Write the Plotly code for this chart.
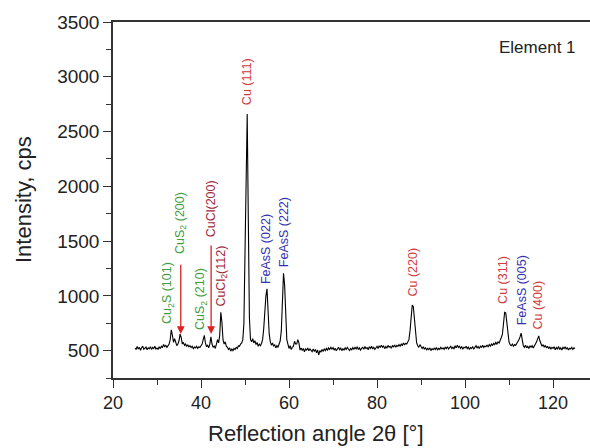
import numpy as np
import plotly.graph_objects as go

# Scan grid (2theta, degrees): 25 .. 125 in 0.25 steps
angle_start = 25.0
angle_step = 0.25

intensity = [
    # 25 - 29.75
    522, 510, 538, 515, 530, 504, 527, 541, 512, 520, 533, 508, 525, 517, 536, 511, 529, 519, 540, 514,
    # 30 - 34.75
    524, 512, 535, 518, 540, 528, 556, 537, 548, 530, 545, 560, 600, 690, 640, 575, 610, 565, 545, 560,
    # 35 - 39.75
    590, 650, 620, 560, 575, 548, 560, 540, 552, 535, 546, 528, 540, 518, 532, 525, 540, 520, 535, 528,
    # 40 - 44.75
    545, 560, 600, 640, 570, 535, 548, 525, 560, 625, 560, 530, 545, 520, 560, 600, 570, 640, 850, 760,
    # 45 - 49.75
    600, 560, 580, 540, 530, 510, 525, 495, 515, 500, 520, 510, 530, 520, 545, 540, 560, 570, 600, 750,
    # 50 - 54.75
    1400, 2300, 2660, 1700, 800, 600, 580, 610, 570, 590, 555, 575, 540, 560, 545, 565, 600, 700, 900, 1000,
    # 55 - 59.75
    1065, 850, 650, 580, 550, 570, 540, 555, 525, 545, 530, 560, 590, 680, 950, 1205, 1100, 750, 600, 560,
    # 60 - 64.75
    520, 545, 510, 530, 540, 585, 560, 560, 600, 570, 505, 525, 500, 520, 490, 515, 505, 525, 498, 515,
    # 65 - 69.75
    505, 490, 515, 495, 510, 480, 505, 460, 500, 485, 510, 495, 515, 500, 520, 505, 525, 510, 530, 515,
    # 70 - 74.75
    528, 505, 520, 498, 515, 530, 508, 522, 500, 518, 505, 525, 510, 530, 515, 502, 520, 508, 527, 512,
    # 75 - 79.75
    530, 515, 535, 510, 525, 505, 520, 530, 512, 538, 518, 528, 508, 535, 520, 540, 515, 530, 510, 532,
    # 80 - 84.75
    540, 520, 545, 528, 550, 530, 542, 518, 538, 525, 548, 532, 540, 522, 545, 535, 552, 530, 548, 538,
    # 85 - 89.75
    555, 540, 560, 545, 570, 555, 565, 560, 575, 600, 680, 850, 915, 900, 800, 640, 570, 545, 530, 555,
    # 90 - 94.75
    540, 520, 535, 512, 528, 505, 520, 510, 525, 500, 518, 508, 522, 510, 528, 505, 520, 512, 530, 515,
    # 95 - 99.75
    525, 510, 530, 518, 535, 515, 528, 540, 520, 532, 515, 545, 525, 550, 528, 540, 520, 535, 515, 530,
    # 100 - 104.75
    525, 540, 518, 532, 510, 528, 520, 535, 515, 530, 545, 525, 538, 520, 540, 530, 548, 528, 542, 535,
    # 105 - 109.75
    550, 535, 555, 540, 560, 548, 565, 555, 575, 560, 580, 570, 590, 620, 650, 760, 850, 845, 740, 620,
    # 110 - 114.75
    580, 555, 545, 560, 540, 555, 548, 565, 580, 600, 625, 660, 600, 545, 530, 550, 525, 540, 520, 545,
    # 115 - 119.75
    530, 545, 525, 550, 560, 580, 610, 635, 590, 565, 540, 555, 530, 548, 525, 540, 518, 535, 512, 530,
    # 120 - 125
    520, 535, 508, 528, 515, 538, 510, 525, 505, 530, 518, 535, 512, 528, 505, 522, 515, 530, 510, 525,
    518,
]
angles = angle_start + angle_step * np.arange(len(intensity))

# Peak labels
label_texts = [
    "Cu<sub>2</sub>S (101)", "CuS<sub>2</sub> (200)", "CuS<sub>2</sub> (210)", "CuCl(200)",
    "CuCl<sub>2</sub>(112)", "Cu (111)", "FeAsS (022)", "FeAsS (222)",
    "Cu (220)", "Cu (311)", "FeAsS (005)", "Cu (400)",
]
label_x = [32.5, 35.4, 40.0, 42.2, 44.8, 50.5, 54.8, 58.9, 88.2, 108.6, 113.0, 116.6]
label_y = [725, 1362, 670, 1518, 880, 2720, 1090, 1245, 972, 907, 715, 670]
label_kind = ["g", "g", "g", "m", "m", "r", "b", "b", "r", "r", "b", "r"]
kind_colors = {"g": "#3f9c3f", "m": "#9e2a3a", "r": "#d23a3a", "b": "#3030b0"}

# Arrows (x, head value, tail value)
arrow_x = [35.4, 42.3]
arrow_head = [652, 652]
arrow_tail = [1298, 1473]

x_ticks = [20, 40, 60, 80, 100, 120]
y_ticks = [500, 1000, 1500, 2000, 2500, 3000, 3500]

FONT = "Liberation Sans, Arial, sans-serif"
W, H = 590, 448
L, R, T, B = 113, 0, 22, 70
pw, ph = W - L - R, H - T - B


def px_to_paper(px, py):
    return (px - L) / pw, 1 - (py - T) / ph


fig = go.Figure()
fig.add_trace(go.Scatter(x=angles, y=intensity, mode="lines",
                         line=dict(color="black", width=1.1), showlegend=False,
                         hoverinfo="skip"))

for t, x, y, k in zip(label_texts, label_x, label_y, label_kind):
    fig.add_annotation(x=x, y=y, xref="x", yref="y", text=t, showarrow=False,
                       textangle=-90, xanchor="center", yanchor="bottom",
                       font=dict(family=FONT, size=12.5, color=kind_colors[k]))
for x, h, tl in zip(arrow_x, arrow_head, arrow_tail):
    fig.add_annotation(x=x, y=h, xref="x", yref="y", ax=x, ay=tl, axref="x", ayref="y",
                       text="", showarrow=True, arrowhead=2, arrowsize=1.2,
                       arrowwidth=1.3, arrowcolor="#e02020")

ex, ey = px_to_paper(578, 48)
fig.add_annotation(x=ex, y=ey, xref="paper", yref="paper", text="Element 1",
                   showarrow=False, xanchor="right", yanchor="middle",
                   font=dict(family=FONT, size=17, color="#222"))

tx, ty = px_to_paper(316, 433)
fig.add_annotation(x=tx, y=ty, xref="paper", yref="paper", text="Reflection angle 2θ [°]",
                   showarrow=False, xanchor="center", yanchor="middle",
                   font=dict(family=FONT, size=22, color="#222"))
yx, yy = px_to_paper(23, 200)
fig.add_annotation(x=yx, y=yy, xref="paper", yref="paper", text="Intensity, cps",
                   showarrow=False, textangle=-90, xanchor="center", yanchor="middle",
                   font=dict(family=FONT, size=22, color="#222"))

fig.update_layout(
    width=W, height=H,
    margin=dict(l=L, r=R, t=T, b=B, pad=0, autoexpand=False),
    paper_bgcolor="white", plot_bgcolor="white",
    font=dict(family=FONT, color="#222"),
    xaxis=dict(range=[20, 128.4], tickvals=x_ticks, ticks="outside", ticklen=8, tickwidth=1.3,
               tickcolor="#333", showline=True, linecolor="#333", linewidth=1.5, mirror=True,
               showgrid=False, zeroline=False, tickfont=dict(size=18), automargin=False,
               minor=dict(dtick=10, tick0=20, ticks="outside", ticklen=5, tickcolor="#333",
                          showgrid=False)),
    yaxis=dict(range=[250, 3500], tickvals=y_ticks, ticks="outside", ticklen=8, tickwidth=1.3,
               tickcolor="#333", showline=True, linecolor="#333", linewidth=1.5, mirror=False,
               showgrid=False, zeroline=False, tickfont=dict(size=19), automargin=False,
               minor=dict(dtick=250, tick0=250, ticks="outside", ticklen=5, tickcolor="#333",
                          showgrid=False)),
)

fig.write_html("out.html", config={"displayModeBar": False},
               post_script="document.body.style.margin='0';document.body.style.overflow='hidden';")
